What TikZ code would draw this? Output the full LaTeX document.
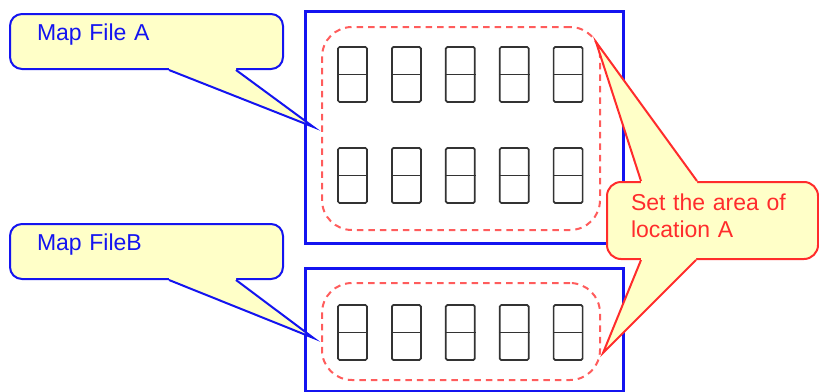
\documentclass[tikz,border=0pt]{standalone}
\usepackage{fontspec}
\setmainfont{Liberation Sans}
\usetikzlibrary{calc}
\definecolor{mapblue}{HTML}{1414F0}
\definecolor{areared}{HTML}{FF5C5C}
\definecolor{notered}{HTML}{FF2C2C}
\definecolor{notefill}{HTML}{FFFFC8}
\definecolor{slotgray}{HTML}{333333}
\tikzset{
  frame/.style={draw=mapblue, line width=3pt, inner sep=0pt},
  area/.style={draw=areared, line width=2pt, dash pattern=on 6.5pt off 5pt,
               rounded corners=30pt, inner sep=0pt},
  slot/.style={draw=slotgray, line width=1.7pt, rounded corners=1.5pt, inner sep=0pt,
               minimum width=29pt, minimum height=55pt},
  slotmid/.style={draw=slotgray, line width=1.7pt},
  bnote/.style={draw=mapblue, line width=2pt, fill=notefill, rounded corners=12pt,
                text=mapblue, font=\fontsize{23pt}{27pt}\selectfont, align=left,
                inner xsep=27pt, inner ysep=2pt, text width=219pt,
                minimum width=273pt, minimum height=55pt, text depth=17.8pt},
  rnote/.style={draw=notered, line width=2pt, fill=notefill, rounded corners=14pt,
                text=notered, font=\fontsize{23pt}{27pt}\selectfont, align=left,
                inner xsep=24pt, inner ysep=2pt, text width=163pt,
                minimum width=211pt, minimum height=77pt, text depth=37.6pt},
  btail/.style={draw=mapblue, line width=2pt},
  rtail/.style={draw=notered, line width=2pt},
}
% tail of a note: #1 line style, #2 base start, #3 tip, #4 base end, #5 shift into the note
\newcommand{\notetail}[5]{%
  \fill[notefill] ($(#2)+#5$) -- (#2) -- (#3) -- (#4) -- ($(#4)+#5$) -- cycle;
  \draw[#1] (#2) -- (#3) -- (#4);}

\begin{document}
\begin{tikzpicture}[x=1pt,y=-1pt]
\useasboundingbox (0,0) rectangle (819,391);
\clip (0,0) rectangle (819,391);
% map frames
\node[frame, minimum width=318pt, minimum height=232pt] (frameA) at (464,127) {};
\node[frame, minimum width=318pt, minimum height=123pt] (frameB) at (464,329.5) {};
% dashed areas
\node[area, minimum width=278pt, minimum height=203pt] (areaA) at (461,128.5) {};
\node[area, minimum width=278pt, minimum height=97pt] (areaB) at (461,331.5) {};
% slots
\foreach \i in {1,...,5} {
  \node[slot] (slotA\i) at ({352.5+(\i-1)*53.9},74.5) {};
  \node[slot] (slotC\i) at ({352.5+(\i-1)*53.9},175.5) {};
  \node[slot] (slotB\i) at ({352.5+(\i-1)*53.9},332.5) {};
  \draw[slotmid] (slotA\i.west) -- (slotA\i.east);
  \draw[slotmid] (slotC\i.west) -- (slotC\i.east);
  \draw[slotmid] (slotB\i.west) -- (slotB\i.east);
}
% notes
\node[bnote] (noteA) at (146.5,41.5) {Map File A};
\node[bnote] (noteB) at (146.5,251.5) {Map FileB};
\node[rnote] (noteArea) at (712.5,220.5) {Set the area of\\location A};
\coordinate (tipA) at ($(frameA.west)+(10,0)$);
\coordinate (tipB) at ($(frameB.west)+(10,8.5)$);
\coordinate (tipUp) at ($(areaA.north east)+(-5,16)$);
\coordinate (tipDown) at ($(areaB.east)+(2,21.5)$);
\coordinate (a1) at ($(noteA.south west)+(160,0)$);
\coordinate (a2) at ($(noteA.south west)+(227,0)$);
\coordinate (b1) at ($(noteB.south west)+(160,0)$);
\coordinate (b2) at ($(noteB.south west)+(227,0)$);
\coordinate (u1) at ($(noteArea.north west)+(35,0)$);
\coordinate (u2) at ($(noteArea.north west)+(91,0)$);
\coordinate (d1) at ($(noteArea.south west)+(35,0)$);
\coordinate (d2) at ($(noteArea.south west)+(90,0)$);
\notetail{btail}{a1}{tipA}{a2}{(0,-3)}
\notetail{btail}{b1}{tipB}{b2}{(0,-3)}
\notetail{rtail}{u1}{tipUp}{u2}{(0,3)}
\notetail{rtail}{d1}{tipDown}{d2}{(0,-3)}
\end{tikzpicture}
\end{document}
